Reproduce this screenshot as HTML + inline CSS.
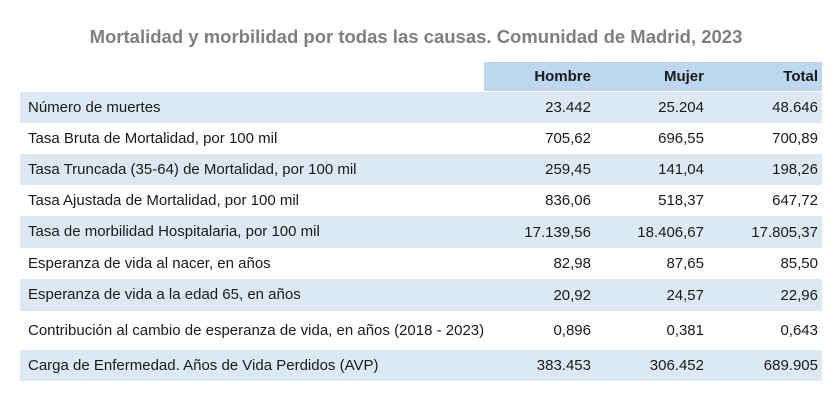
<!DOCTYPE html>
<html><head><meta charset="utf-8"><style>
body{margin:0;width:837px;height:400px;background:#fff;font-family:"Liberation Sans",Arial,sans-serif;position:relative;overflow:hidden}
.t{position:absolute;left:0;width:832px;top:26px;text-align:center;font-weight:bold;font-size:18.5px;color:#7f7f7f}
.row{position:absolute;left:20px;width:802px;font-size:15px;color:#1a1a1a}
.b{background:#dde8f5}
.hdr{position:absolute;left:484px;width:338px;top:62px;height:29px;background:#bdd7ee}
.c{position:absolute;top:0;bottom:0;display:flex;align-items:center}
.l{left:8px;width:462px;line-height:18px}
.v{justify-content:flex-end}
.v1{right:231px}.v2{right:118px}.v3{right:4px}
.h{font-weight:bold}
</style></head><body>
<div class="t">Mortalidad y morbilidad por todas las causas. Comunidad de Madrid, 2023</div>
<div class="hdr"></div>
<div class="row h" style="top:62px;height:29px">
<div class="c v v1">Hombre</div>
<div class="c v v2">Mujer</div>
<div class="c v v3">Total</div>
</div>
<div id="rows"></div>
<script>
const labels=["Número de muertes","Tasa Bruta de Mortalidad, por 100 mil","Tasa Truncada (35-64) de Mortalidad, por 100 mil","Tasa Ajustada de Mortalidad, por 100 mil","Tasa de morbilidad Hospitalaria, por 100 mil","Esperanza de vida al nacer, en años","Esperanza de vida a la edad 65, en años","Contribución al cambio de esperanza de vida, en años (2018 - 2023)","Carga de Enfermedad. Años de Vida Perdidos (AVP)"];
const hombre=["23.442","705,62","259,45","836,06","17.139,56","82,98","20,92","0,896","383.453"];
const mujer=["25.204","696,55","141,04","518,37","18.406,67","87,65","24,57","0,381","306.452"];
const total=["48.646","700,89","198,26","647,72","17.805,37","85,50","22,96","0,643","689.905"];
const tops=[92,123,154,185,216,248,279,311,350,381];
const host=document.getElementById('rows');
labels.forEach((lab,i)=>{
 const r=document.createElement('div');
 r.className='row'+(i%2===0?' b':'');
 r.style.top=tops[i]+'px';r.style.height=(tops[i+1]-tops[i])+'px';
 
 
 const cells=[['c l',lab,'row-label'],['c v v1',hombre[i],'hombre-value'],['c v v2',mujer[i],'mujer-value'],['c v v3',total[i],'total-value']];
 cells.forEach(([cls,txt,nm])=>{
  const d=document.createElement('div');d.className=cls;d.textContent=txt;
  
  
  r.appendChild(d);
 });
 host.appendChild(r);
});
</script>
</body></html>
